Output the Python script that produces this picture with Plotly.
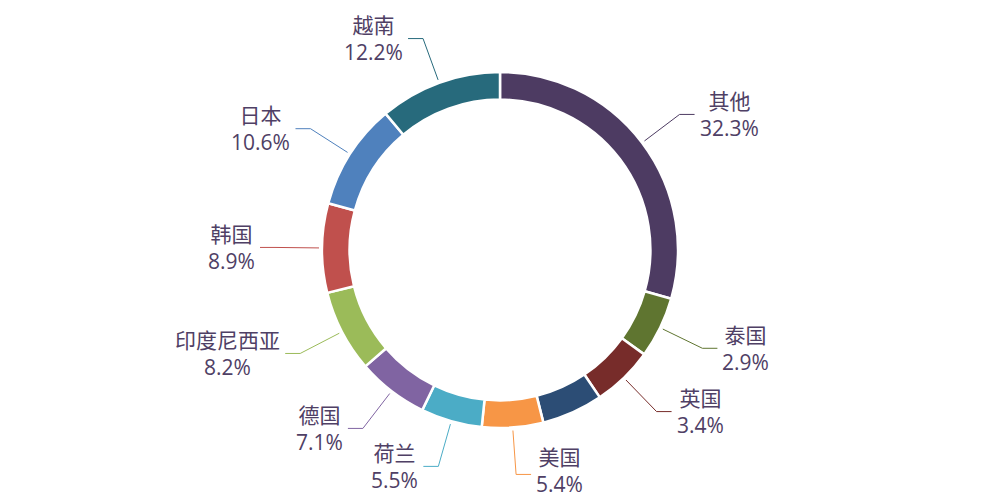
import math
import plotly.graph_objects as go

# ---- data ----
names = ["其他", "泰国", "英国", "未标注", "美国", "荷兰", "德国", "印度尼西亚", "韩国", "日本", "越南"]
values = [32.3, 2.9, 3.4, 3.5, 5.4, 5.5, 7.1, 8.2, 8.9, 10.6, 12.2]
show_label = [True, True, True, False, True, True, True, True, True, True, True]
colors = ["#4d3b62", "#5f7530", "#772c2a", "#2c4d75", "#f79646", "#4bacc6",
          "#8064a2", "#9bbb59", "#c0504d", "#4f81bd", "#276a7c"]

# ---- style / layout constants ----
W, H = 1000, 500
CX, CY, R = 500, 250, 178
HOLE = 0.845
MIN_ANGLE = 20.0
FONT = "Open Sans, Noto Sans CJK SC, sans-serif"
FS = 21
TEXT_COLOR = "#4f4065"


def apply_min_angle(vals, min_angle):
    total = sum(vals)
    raw = [v / total * 360 for v in vals]
    small = [a < min_angle for a in raw]
    rest_total = sum(v for v, s in zip(vals, small) if not s)
    rest_angle = 360 - min_angle * sum(small)
    return [min_angle if s else v / rest_total * rest_angle for v, s in zip(vals, small)]


angles = apply_min_angle(values, MIN_ANGLE)

fig = go.Figure()
fig.add_trace(go.Pie(
    labels=names,
    values=angles,
    customdata=values,
    sort=False,
    direction="clockwise",
    rotation=0,
    hole=HOLE,
    textinfo="none",
    marker=dict(colors=colors, line=dict(color="white", width=2.5)),
    domain=dict(x=[0, 1], y=[(H - CY - R) / H, (H - CY + R) / H]),
    showlegend=False,
    hovertemplate="%{label}: %{customdata}%<extra></extra>",
))

shapes = []
annotations = []
start = 0.0
R1, R2, HSEG, GAP = R + 3, 225, 15, 4
HALF_BOX = 1.35 * FS + 1
for name, v, a, col, show in zip(names, values, angles, colors, show_label):
    mid = math.radians(start + a / 2)
    start += a
    if not show:
        continue
    dx, dy = math.sin(mid), -math.cos(mid)
    x0, y0 = CX + R1 * dx, CY + R1 * dy
    x1, y1 = CX + R2 * dx, CY + R2 * dy
    side = 1 if dx > 0 else -1
    x2 = x1 + side * HSEG
    shapes.append(dict(
        type="path", xref="paper", yref="paper",
        path=f"M {x0/W} {1-y0/H} L {x1/W} {1-y1/H} L {x2/W} {1-y1/H}",
        line=dict(color=col, width=1),
    ))
    ly = min(max(y1, HALF_BOX), H - HALF_BOX)
    annotations.append(dict(
        x=(x2 + side * GAP) / W, y=1 - ly / H, xref="paper", yref="paper",
        text=f"{name}<br>{v}%", showarrow=False, align="center",
        xanchor="left" if side > 0 else "right", yanchor="middle",
        borderpad=0,
        font=dict(family=FONT, size=FS, color=TEXT_COLOR),
    ))

fig.update_layout(
    width=W, height=H, autosize=False,
    margin=dict(l=0, r=0, t=0, b=0),
    paper_bgcolor="white", plot_bgcolor="white",
    shapes=shapes, annotations=annotations,
)

fig.write_html("out.html")
